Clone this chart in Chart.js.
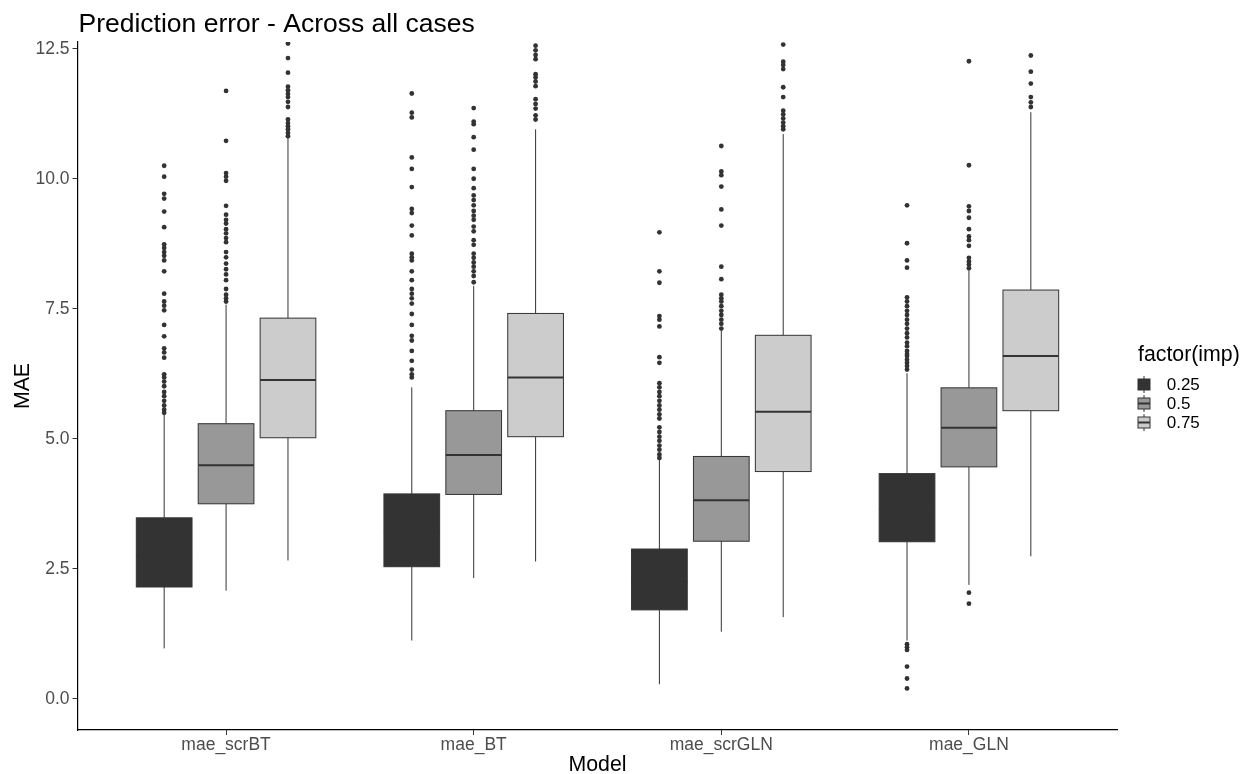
<!DOCTYPE html>
<html>
<head>
<meta charset="utf-8">
<script src="https://cdn.jsdelivr.net/npm/chart.js@4.4.1/dist/chart.umd.min.js"></script>
<style>
  html, body { margin: 0; padding: 0; background: #fff; }
</style>
</head>
<body>
<canvas id="chart" width="1245" height="774"></canvas>
<script>
// categories and legend levels
const categories = ['mae_scrBT', 'mae_BT', 'mae_scrGLN', 'mae_GLN']
const impLevels = ['0.25', '0.5', '0.75']
const yTicks = [0, 2.5, 5, 7.5, 10, 12.5]

// box stats, one row per imp level, one column per model
const whiskerLow = [
  [0.97, 1.12, 0.28, 1.12],
  [2.08, 2.32, 1.29, 2.19],
  [2.66, 2.64, 1.57, 2.74],
]
const q1 = [
  [2.15, 2.54, 1.71, 3.02],
  [3.75, 3.93, 3.03, 4.46],
  [5.02, 5.04, 4.37, 5.54],
]
const median = [
  [2.75, 3.20, 2.25, 3.65],
  [4.49, 4.69, 3.82, 5.21],
  [6.13, 6.18, 5.52, 6.59],
]
const q3 = [
  [3.48, 3.94, 2.88, 4.33],
  [5.29, 5.54, 4.66, 5.98],
  [7.32, 7.41, 6.99, 7.86],
]
const whiskerHigh = [
  [5.47, 5.99, 4.59, 6.26],
  [7.58, 7.94, 7.08, 8.26],
  [10.80, 10.95, 10.86, 11.28],
]

// outliers per model
const outliers025 = [
  [10.25, 10.04, 9.71, 9.62, 9.37, 9.07, 8.74, 8.67, 8.59, 8.52, 8.43, 8.22, 7.79, 7.64, 7.56, 7.47,
    7.19, 6.97, 6.74, 6.66, 6.56, 6.24, 6.18, 6.10, 6.01, 5.90, 5.82, 5.73, 5.64, 5.56, 5.50],
  [11.64, 11.27, 11.18, 10.41, 10.19, 9.84, 9.42, 9.34, 9.10, 8.91, 8.56, 8.49, 8.43, 8.22, 8.05,
    7.88, 7.79, 7.70, 7.60, 7.40, 7.19, 6.98, 6.89, 6.69, 6.50, 6.33, 6.24, 6.18],
  [8.97, 8.22, 8.00, 7.36, 7.29, 7.16, 6.57, 6.46, 6.07, 5.99, 5.90, 5.82, 5.73, 5.64, 5.56, 5.47,
    5.39, 5.22, 5.13, 5.04, 4.96, 4.87, 4.79, 4.70, 4.63],
  [9.49, 8.76, 8.43, 8.29, 7.72, 7.64, 7.55, 7.46, 7.38, 7.29, 7.21, 7.12, 7.03, 6.95, 6.85, 6.78,
    6.69, 6.63, 6.59, 6.52, 6.46, 6.40, 6.33, 1.05, 0.99, 0.94, 0.62, 0.39, 0.20],
]
const outliers05 = [
  [11.69, 10.73, 10.11, 10.04, 9.96, 9.48, 9.31, 9.21, 9.14, 9.03, 8.95, 8.86, 8.78, 8.59, 8.49,
    8.37, 8.26, 8.16, 8.05, 7.88, 7.77, 7.70, 7.64],
  [11.36, 11.10, 11.05, 10.80, 10.56, 10.19, 10.00, 9.82, 9.68, 9.59, 9.49, 9.38, 9.29, 9.21, 9.08,
    8.99, 8.82, 8.73, 8.56, 8.48, 8.39, 8.31, 8.22, 8.13, 8.01],
  [10.63, 10.14, 10.07, 9.85, 9.41, 9.10, 8.31, 8.07, 7.77, 7.70, 7.64, 7.55, 7.46, 7.38, 7.29,
    7.21, 7.12],
  [12.26, 10.26, 9.47, 9.38, 9.25, 9.03, 8.89, 8.82, 8.71, 8.48, 8.41, 8.35, 8.28, 2.04, 1.83],
]
const outliers075 = [
  [12.60, 12.32, 12.04, 11.77, 11.70, 11.63, 11.57, 11.48, 11.38, 11.14, 11.07, 11.01, 10.95, 10.88, 10.82],
  [12.56, 12.47, 12.38, 12.30, 12.01, 11.95, 11.87, 11.78, 11.53, 11.44, 11.35, 11.22, 11.14],
  [12.58, 12.25, 12.19, 12.11, 11.76, 11.57, 11.31, 11.24, 11.16, 11.08, 11.01, 10.95],
  [12.37, 12.06, 11.83, 11.57, 11.47, 11.38],
]

const outlierSets = [outliers025, outliers05, outliers075]
const fills = ['#333333', '#989898', '#cccccc']
const dodge = [-0.25, 0, 0.25]
const boxWidth = 0.225
const ink = '#333333'
const font = "'Liberation Sans', Arial, sans-serif"

const boxPlugin = {
  id: 'boxes',
  beforeDatasetsDraw (chart) {
    const { ctx, scales: { x, y } } = chart
    const half = (x.getPixelForValue(boxWidth) - x.getPixelForValue(0)) / 2
    ctx.save()
    ctx.strokeStyle = ink
    impLevels.forEach((lvl, i) => {
      categories.forEach((cat, g) => {
        const cx = x.getPixelForValue(g + 1 + dodge[i])
        const yLo = y.getPixelForValue(whiskerLow[i][g])
        const yQ1 = y.getPixelForValue(q1[i][g])
        const yMed = y.getPixelForValue(median[i][g])
        const yQ3 = y.getPixelForValue(q3[i][g])
        const yHi = y.getPixelForValue(whiskerHigh[i][g])
        ctx.lineWidth = 1
        ctx.beginPath()
        ctx.moveTo(cx, yHi); ctx.lineTo(cx, yQ3)
        ctx.moveTo(cx, yQ1); ctx.lineTo(cx, yLo)
        ctx.stroke()
        ctx.fillStyle = fills[i]
        ctx.fillRect(cx - half, yQ3, 2 * half, yQ1 - yQ3)
        ctx.strokeRect(cx - half, yQ3, 2 * half, yQ1 - yQ3)
        ctx.lineWidth = 2
        ctx.beginPath()
        ctx.moveTo(cx - half, yMed); ctx.lineTo(cx + half, yMed)
        ctx.stroke()
      })
    })
    ctx.restore()
  },
}

// title and legend, placed like the ggplot output
const annotPlugin = {
  id: 'annot',
  afterDraw (chart) {
    const { ctx, chartArea } = chart
    ctx.save()
    ctx.fillStyle = '#000'
    ctx.textBaseline = 'alphabetic'
    ctx.font = `26.5px ${font}`
    ctx.fillText('Prediction error - Across all cases', chartArea.left + 1, 31.7)

    const lx = 1138
    ctx.font = `21.3px ${font}`
    ctx.fillText('factor(imp)', lx, 360.7)
    ctx.font = `17px ${font}`
    ctx.textBaseline = 'middle'
    impLevels.forEach((lvl, i) => {
      const cy = 384.5 + i * 19
      const cx = lx + 6
      ctx.strokeStyle = ink
      ctx.lineWidth = 1
      ctx.beginPath()
      ctx.moveTo(cx, cy - 8.5); ctx.lineTo(cx, cy + 8.5)
      ctx.stroke()
      ctx.fillStyle = fills[i]
      ctx.fillRect(lx, cy - 5.5, 12, 11)
      ctx.strokeRect(lx, cy - 5.5, 12, 11)
      ctx.lineWidth = 2
      ctx.beginPath()
      ctx.moveTo(lx, cy); ctx.lineTo(lx + 12, cy)
      ctx.stroke()
      ctx.fillStyle = '#000'
      ctx.fillText(lvl, 1166.7, cy + 1)
    })
    ctx.restore()
  },
}

new Chart(document.getElementById('chart'), {
  type: 'scatter',
  data: {
    datasets: impLevels.map((lvl, i) => ({
      label: lvl,
      data: outlierSets[i].flatMap((vals, g) => vals.map(v => ({ x: g + 1 + dodge[i], y: v }))),
      pointRadius: 2.4,
      pointHoverRadius: 2.4,
      backgroundColor: ink,
      borderWidth: 0,
    })),
  },
  options: {
    responsive: false,
    animation: false,
    devicePixelRatio: 1,
    layout: { padding: { left: 0, right: 127.5, top: 42, bottom: 0 } },
    plugins: {
      legend: { display: false },
      tooltip: { enabled: false },
    },
    scales: {
      x: {
        type: 'linear',
        min: 0.4,
        max: 4.6,
        afterBuildTicks (scale) {
          scale.ticks = categories.map((c, i) => ({ value: i + 1 }))
        },
        afterFit (scale) { scale.height = 44 },
        ticks: {
          autoSkip: false,
          maxRotation: 0,
          padding: 0,
          color: '#4d4d4d',
          font: { family: font, size: 17.5 },
          callback: v => categories[v - 1],
        },
        grid: { drawOnChartArea: false, drawTicks: true, tickLength: 5, color: ink },
        border: { display: true, color: '#000', width: 1.2 },
        title: {
          display: true,
          text: 'Model',
          color: '#000',
          font: { family: font, size: 21.3, lineHeight: 0.8 },
          padding: { top: 0, bottom: 0 },
        },
      },
      y: {
        type: 'linear',
        min: -0.6,
        max: 12.63,
        afterBuildTicks (scale) {
          scale.ticks = yTicks.map(v => ({ value: v }))
        },
        afterFit (scale) { scale.width = 77.5 },
        ticks: {
          padding: 3,
          color: '#4d4d4d',
          font: { family: font, size: 17.5 },
          callback: v => v.toFixed(1),
        },
        grid: { drawOnChartArea: false, drawTicks: true, tickLength: 5, color: ink },
        border: { display: true, color: '#000', width: 1.2 },
        title: {
          display: true,
          text: 'MAE',
          color: '#000',
          font: { family: font, size: 21.3, lineHeight: 1 },
          padding: { top: 12, bottom: 0 },
        },
      },
    },
  },
  plugins: [boxPlugin, annotPlugin],
})
</script>
</body>
</html>
